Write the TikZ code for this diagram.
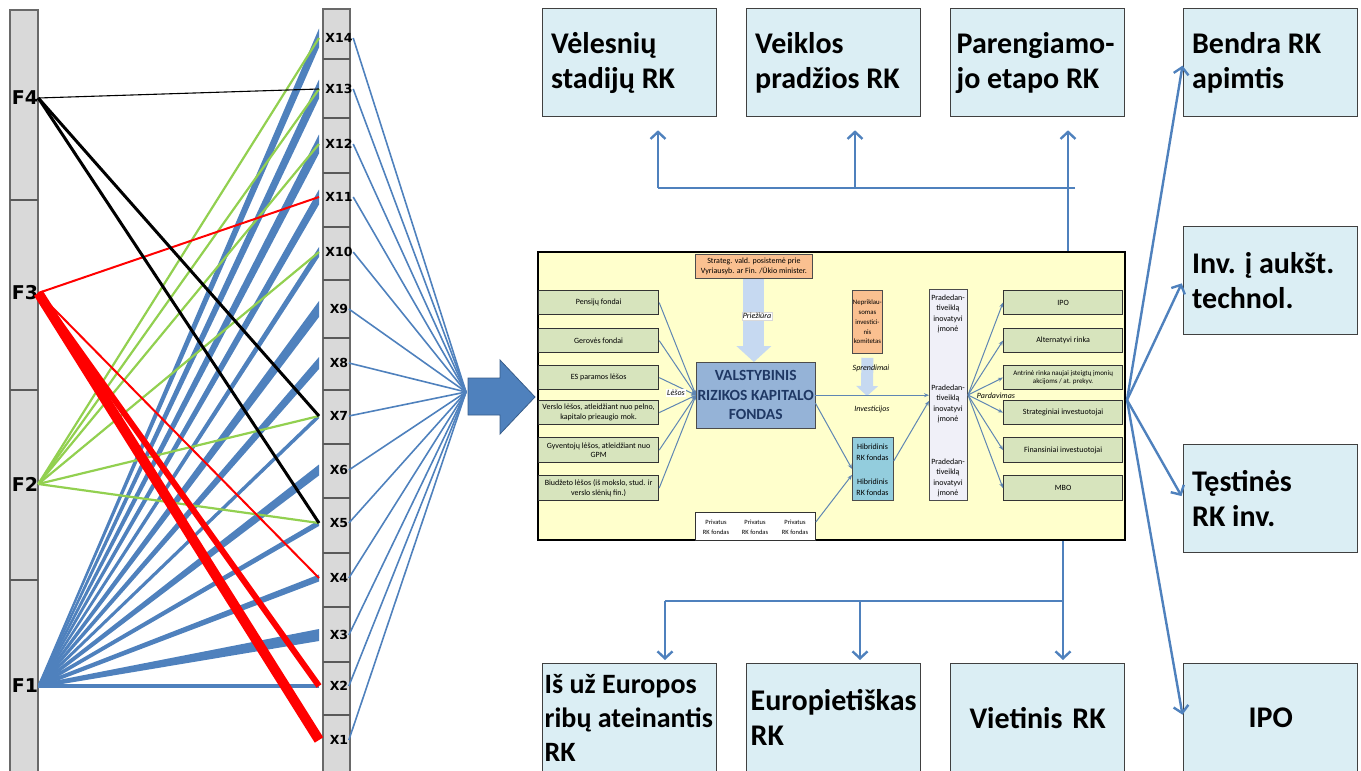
\documentclass[tikz,border=0pt]{standalone}
\usepackage{fontspec}
\setmainfont{Carlito}
\newfontfamily\labelfont{DejaVu Sans}
\usetikzlibrary{positioning,arrows.meta,calc}
\definecolor{steel}{RGB}{79,129,189}
\definecolor{steeldk}{RGB}{56,93,138}
\definecolor{barfill}{RGB}{217,217,217}
\definecolor{barline}{RGB}{105,105,105}
\definecolor{lgreen}{RGB}{146,208,80}
\definecolor{boxfill}{RGB}{219,238,244}
\definecolor{boxline}{RGB}{64,64,64}
\definecolor{panelfill}{RGB}{255,255,204}
\definecolor{srcfill}{RGB}{215,228,189}
\definecolor{peach}{RGB}{250,192,144}
\definecolor{fundfill}{RGB}{149,179,215}
\definecolor{hybfill}{RGB}{147,205,221}
\definecolor{colfill}{RGB}{240,240,248}
\definecolor{fatblue}{RGB}{198,217,241}
\definecolor{thinblue}{RGB}{95,134,179}
\definecolor{navytext}{RGB}{31,56,100}
\newcommand{\bigtext}{\fontsize{30}{35}\selectfont\bfseries}
\newcommand{\smalltext}{\fontsize{8}{9.5}\selectfont}

\tikzset{
  bigbox/.style={draw=boxline,fill=boxfill,line width=1.3pt,anchor=north west,
    minimum width=174pt,minimum height=108pt,text width=157pt,inner xsep=8.5pt,
    inner ysep=2pt,align=flush left,font=\bigtext},
  srcbox/.style={draw=black!80,fill=srcfill,line width=1.2pt,anchor=north west,
    minimum width=120pt,minimum height=24pt,inner sep=0pt,align=center,font=\smalltext},
  peachbox/.style={draw=black!70,fill=peach,line width=0.8pt,anchor=north west,
    inner sep=0pt,align=center},
  intext/.style={inner sep=0pt,align=center,font=\fontsize{8}{10.5}\selectfont},
  tag/.style={font=\fontsize{8}{9}\selectfont\itshape,inner sep=1pt},
  thinarrow/.style={draw=thinblue,line width=1pt,-{Stealth[length=5pt,width=4pt]}},
  fat/.style={draw=fatblue},
  conn/.style={draw=steel,line width=2.4pt},
  connarrow/.style={conn,-{Straight Barb[length=7pt,width=15pt]}},
  fan/.style={draw=steel,line width=1.6pt},
  bar/.style={fill=barfill,draw=barline,line width=1.4pt},
  barsep/.style={draw=black!65,line width=1.4pt},
  xlab/.style={font=\labelfont\bfseries\fontsize{12.5}{14}\selectfont,inner sep=0.5pt},
  flab/.style={font=\labelfont\bfseries\fontsize{19}{21}\selectfont,inner sep=0pt},
}

\begin{document}
\begin{tikzpicture}[x=1pt,y=-1pt]
\useasboundingbox (0,0) rectangle (1361,771);

% factor and item bars
\draw[bar] (10,10) rectangle (38,776);
\foreach \y in {200,390,580} \draw[barsep] (10,\y) -- (38,\y);
\draw[bar] (323,9) rectangle (350,776);
\foreach \y in {59,118,173,227,280,338,390,444,498,553,607,662,715}
  \draw[barsep] (323,\y) -- (350,\y);
\foreach \i/\y in {4/98,3/293,2/484,1/686}
  \node[flab] (f\i) at (25,\y) {F\i};
\foreach \i/\y in {14/38,13/89,12/144,11/197,10/252,9/309,8/363,7/416,6/470,5/523,4/578,3/635,2/686,1/740}{
  \coordinate (a\i) at (319,\y);
  \node[xlab] (x\i) at (339,\y) {X\i};
}

% loadings
\foreach \i/\w in {14/19,13/19,12/19,11/15,10/10,9/16,8/12,7/5,6/11,5/6,4/7,3/12}
  \fill[steel] ($(f1.east)+(0,2)$) -- ($(a\i)+(0,\w/2)$) -- ($(a\i)-(0,\w/2)$)
    -- ($(f1.east)-(0,2)$) -- cycle;
\draw[steel,line width=4pt] (f1.east) -- (a2);
\foreach \i in {14,13,12,10,7,5}
  \draw[lgreen,line width=2.2pt] (f2.east) -- (a\i);
\draw[red,line width=2pt] (f3.east) -- (a11);
\draw[red,line width=2pt] (f3.east) -- (a4);
\draw[red,line width=6pt] (f3.east) -- (a2);
\draw[red,line width=10pt] (f3.east) -- (a1);
\draw[black,line width=1.1pt] (f4.east) -- (a13);
\draw[black,line width=3pt] (f4.east) -- (a7);
\draw[black,line width=3pt] (f4.east) -- (a5);

% items into the scheme
\coordinate (hub) at (466,392);
\foreach \i in {1,...,14} \draw[fan] (x\i.east) -- (hub);
\filldraw[fill=steel,draw=steeldk,line width=0.8pt] (468,378) -- (500,378) -- (500,360)
  -- (535,397) -- (500,434) -- (500,415) -- (468,415) -- cycle;

% scheme of the fund
\node[draw=black,line width=2pt,fill=panelfill,anchor=north west,minimum width=587pt,
  minimum height=288pt,inner sep=0pt] (panel) at (537,251) {};
\node[peachbox,minimum width=117pt,minimum height=24pt,font=\smalltext] (strat) at (695,254)
  {Strateg. vald. posistemė prie\\Vyriausyb. ar Fin. /Ūkio minister.};
\node[peachbox,minimum width=30pt,minimum height=63pt,font=\fontsize{6.8}{9.8}\selectfont] (nep) at (852,290)
  {Nepriklau-\\somas\\investici-\\nis\\komitetas};
\node[draw=black!70,fill=fundfill,anchor=north west,minimum width=119pt,minimum height=66pt,
  inner sep=0pt,align=center,text=navytext,font=\fontsize{15.5}{19.5}\selectfont\bfseries] (valst) at (696,362)
  {VALSTYBINIS\\RIZIKOS KAPITALO\\FONDAS};
\node[srcbox] (g1) at (538,290) {Pensijų fondai};
\node[srcbox] (g2) at (538,328) {Gerovės fondai};
\node[srcbox] (g3) at (538,365) {ES paramos lėšos};
\node[srcbox] (g4) at (538,400) {Verslo lėšos, atleidžiant nuo pelno,\\kapitalo prieaugio mok.};
\node[srcbox,minimum height=25pt] (g5) at (538,437) {Gyventojų lėšos, atleidžiant nuo\\GPM};
\node[srcbox,minimum height=25pt] (g6) at (538,475) {Biudžeto lėšos (iš mokslo, stud. ir\\verslo slėnių fin.)};
\node[srcbox,minimum width=119pt] (e1) at (1003,290) {IPO};
\node[srcbox,minimum width=119pt] (e2) at (1003,328) {Alternatyvi rinka};
\node[srcbox,minimum width=119pt,font=\fontsize{7}{8.5}\selectfont] (e3) at (1003,365)
  {Antrinė rinka naujai įsteigtų įmonių\\akcijoms / at. prekyv.};
\node[srcbox,minimum width=119pt] (e4) at (1003,400) {Strateginiai investuotojai};
\node[srcbox,minimum width=119pt,minimum height=25pt] (e5) at (1003,437) {Finansiniai investuotojai};
\node[srcbox,minimum width=119pt,minimum height=25pt] (e6) at (1003,475) {MBO};
\node[draw=black!70,fill=colfill,anchor=north west,minimum width=38pt,minimum height=211pt,
  inner sep=0pt,line width=0.8pt] (prad) at (929,289) {};
\node[intext] (pr1) at (948,314) {Pradedan-\\tiveiklą\\inovatyvi\\įmonė};
\node[intext] (pr2) at (948,404) {Pradedan-\\tiveiklą\\inovatyvi\\įmonė};
\node[intext] (pr3) at (948,478) {Pradedan-\\tiveiklą\\inovatyvi\\įmonė};
\node[draw=black!70,fill=hybfill,anchor=north west,minimum width=41pt,minimum height=63pt,
  inner sep=0pt,line width=0.8pt] (hyb) at (852,437) {};
\node[intext] (h1) at (872.5,452) {Hibridinis\\RK fondas};
\node[intext] (h2) at (872.5,487) {Hibridinis\\RK fondas};
\node[draw=black!80,fill=white,anchor=north west,minimum width=120pt,minimum height=28pt,
  inner sep=0pt,line width=0.8pt] (priv) at (695,512) {};
\foreach \n/\x in {p1/716,p2/755,p3/795}
  \node[intext,font=\fontsize{6.5}{10}\selectfont] (\n) at (\x,527) {Privatus\\RK fondas};

% flows inside the scheme
\draw[fat,line width=21pt,-{Triangle[length=16pt,width=35pt,line width=0pt]}]
  (strat.south) -- (strat.south |- valst.north);
\node[tag,fill=white,draw=black!15] (prz) at (757,316) {Priežiūra};
\coordinate (decide) at (867,396);
\draw[fat,line width=12pt,-{Triangle[length=10pt,width=22pt,line width=0pt]}]
  ([yshift=-4pt]nep.south) -- (decide);
\node[tag] (spr) at (871,368) {Sprendimai};
\foreach \s in {g1,g2,g3,g4,g5,g6} \draw[thinarrow] (\s.east) -- (valst.west);
\node[tag,fill=white] (les) at (676,393) {Lėšos};
\draw[thinarrow] (valst.east) -- (valst.east -| prad.west);
\draw[thinarrow] ([yshift=-8pt]valst.east) -- (hyb.west);
\draw[thinarrow] ([yshift=-10pt]priv.north east) -- ([yshift=-6pt]hyb.west);
\draw[thinarrow] ([yshift=8pt]hyb.east) -- ([yshift=-6pt]prad.west);
\node[tag] (inv) at (872,409) {Investicijos};
\coordinate (sell) at (968,395);
\foreach \i in {1,...,6} \draw[thinarrow] (sell) -- (e\i.west);
\node[tag] (pard) at (996,396) {Pardavimas};

% outcome boxes
\node[bigbox] (late) at (542,8) {Vėlesnių\\stadijų RK};
\node[bigbox] (start) at (746,8) {Veiklos\\pradžios RK};
\node[bigbox,inner xsep=6pt,text width=162pt] (seed) at (950,8) {Parengiamo-\\jo etapo RK};
\node[bigbox] (total) at (1183,8) {Bendra RK\\apimtis};
\node[bigbox] (tech) at (1183,226) {Inv. į aukšt.\\technol.};
\node[bigbox] (follow) at (1183,444) {Tęstinės\\RK inv.};
\node[bigbox,align=center] (ipo) at (1183,663) {IPO};
\node[bigbox,inner xsep=2pt,text width=170pt,font=\fontsize{28}{34}\selectfont\bfseries] (noneu) at (542,663)
  {Iš už Europos\\ribų ateinantis\\RK};
\node[bigbox,inner xsep=4pt,text width=166pt] (eu) at (746,663) {Europietiškas\\RK};
\node[bigbox,align=center] (local) at (950,663) {Vietinis RK};

% connectors to the outcomes
\coordinate (t1) at (658,188);
\coordinate (t2) at (855,188);
\coordinate (t3) at (1068,188);
\draw[conn] (t3 |- panel.north) -- (t3);
\draw[conn] ($(t3)+(7,0)$) -- (t1);
\draw[connarrow,shorten >=13pt] (t1) -- (t1 |- late.south);
\draw[connarrow,shorten >=13pt] (t2) -- (t2 |- start.south);
\draw[connarrow,shorten >=13pt] (t3) -- (t3 |- seed.south);
\coordinate (b1) at (665,601);
\coordinate (b2) at (860,601);
\coordinate (b3) at (1063,601);
\draw[connarrow,shorten >=3pt] (b3 |- panel.south) -- (b3 |- local.north);
\draw[conn] (b3) -- (b1);
\draw[connarrow,shorten >=3pt] (b1) -- (b1 |- noneu.north);
\draw[connarrow,shorten >=3pt] (b2) -- (b2 |- eu.north);
\coordinate (rj) at (1127,400);
\foreach \n in {total,tech,follow,ipo} \draw[connarrow,shorten >=3pt] (rj) -- (\n.west);
\end{tikzpicture}
\end{document}
